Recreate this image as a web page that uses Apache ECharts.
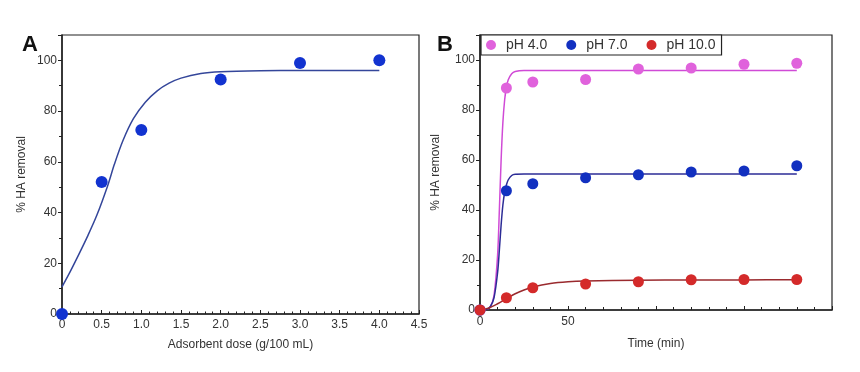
<!DOCTYPE html>
<html>
<head>
<meta charset="utf-8">
<script src="https://cdn.jsdelivr.net/npm/echarts@6/dist/echarts.min.js"></script>
<style>html,body{margin:0;padding:0;background:#fff}#c{width:860px;height:372px}</style>
</head>
<body>
<div id="c"></div>
<script>
// Panel A: adsorbent dose
const doseX = [0, 0.5, 1.0, 2.0, 3.0, 4.0];
const doseY = [0, 52, 72.5, 92.5, 99, 100];
const doseFitX = [0, 0.1, 0.22, 0.32, 0.44, 0.58, 0.66, 0.77, 0.9, 1.05, 1.2, 1.35, 1.5, 1.75, 2.0, 2.5, 3.0, 3.5, 4.0];
const doseFitY = [10.7, 16.5, 24, 30.5, 39, 51, 59, 68.5, 77, 83.5, 88, 91, 93, 94.8, 95.5, 95.9, 96, 96, 96];

// Panel B: time
const timeX = [0, 15, 30, 60, 90, 120, 150, 180];
const ph4Y = [0, 88.8, 91.2, 92.2, 96.4, 96.8, 98.3, 98.7];
const ph7Y = [0, 47.7, 50.5, 52.9, 54.1, 55.2, 55.6, 57.7];
const ph10Y = [0, 4.9, 8.9, 10.4, 11.3, 12.1, 12.2, 12.2];
const fitFastX = [0, 4, 6, 8, 10, 11, 12, 13, 14, 15, 16, 18, 20, 25, 40, 70, 110, 150, 180];
const ph4FitY = [0, 0.3, 1.5, 6, 22, 40, 60, 75, 84, 89, 92, 94.5, 95.4, 95.8, 95.8, 95.8, 95.8, 95.8, 95.8];
const ph7FitY = [0, 0.3, 1.5, 5, 15, 24, 34, 42, 47, 50, 52, 53.8, 54.3, 54.4, 54.4, 54.4, 54.4, 54.4, 54.4];
const fitSlowX = [0, 5, 10, 15, 20, 25, 30, 40, 50, 60, 90, 120, 150, 180];
const ph10FitY = [0, 0.8, 2.5, 4.5, 6.5, 8, 9.2, 10.6, 11.3, 11.6, 11.9, 12, 12.05, 12.1];

const seriesNames = ['pH 4.0', 'pH 7.0', 'pH 10.0'];
const yTicks = [0, 20, 40, 60, 80, 100];

const zip = (xs, ys) => xs.map((x, i) => [x, ys[i]]);
const FONT = 'Liberation Sans, Arial, sans-serif';
const axisCol = '#222';

function yAxis(idx, gap) {
  return {
    type: 'value', gridIndex: idx, min: 0, max: 110, interval: 20,
    name: '% HA removal', nameLocation: 'middle', nameGap: gap,
    nameTextStyle: { fontFamily: FONT, fontSize: 12, color: '#333' },
    axisLine: { show: true, lineStyle: { color: axisCol, width: 1.5 } },
    axisTick: { show: true, inside: false, length: 4, lineStyle: { color: axisCol } },
    minorTick: { show: true, splitNumber: 2, length: 3, lineStyle: { color: axisCol } },
    splitLine: { show: false },
    axisLabel: { fontFamily: FONT, fontSize: 12, color: '#333', margin: 5, showMaxLabel: false,
      formatter: v => (yTicks.indexOf(v) >= 0 ? String(v) : '') }
  };
}

function fitLine(name, xs, ys, color, xi) {
  return { type: 'line', name, xAxisIndex: xi, yAxisIndex: xi, data: zip(xs, ys),
    smooth: 0.3, showSymbol: false, lineStyle: { color, width: 1.5 }, z: 2, silent: true };
}
function dots(name, xs, ys, color, xi, size) {
  return { type: 'scatter', name, xAxisIndex: xi, yAxisIndex: xi, data: zip(xs, ys),
    symbolSize: size, itemStyle: { color, opacity: 1 }, z: 3 };
}

const chart = echarts.init(document.getElementById('c'), null, { renderer: 'canvas' });
chart.setOption({
  animation: false,
  backgroundColor: '#fff',
  grid: [
    { left: 62, top: 35, right: 441, bottom: 58, show: true, borderColor: axisCol, borderWidth: 1.2 },
    { left: 480, top: 35, right: 28, bottom: 62, show: true, borderColor: axisCol, borderWidth: 1.2 }
  ],
  xAxis: [
    {
      type: 'value', gridIndex: 0, min: 0, max: 4.5, interval: 0.5,
      name: 'Adsorbent dose (g/100 mL)', nameLocation: 'middle', nameGap: 25,
      nameTextStyle: { fontFamily: FONT, fontSize: 12, color: '#333' },
      axisLine: { show: true, lineStyle: { color: axisCol, width: 1.5 } },
      axisTick: { show: true, inside: true, length: 4, lineStyle: { color: axisCol } },
      minorTick: { show: true, splitNumber: 5, length: 2.5, lineStyle: { color: axisCol } },
      splitLine: { show: false },
      axisLabel: { fontFamily: FONT, fontSize: 12, color: '#333', margin: 5,
        formatter: v => (v === 0 ? '0' : v.toFixed(1)) }
    },
    {
      type: 'value', gridIndex: 1, min: 0, max: 200, interval: 50,
      name: 'Time (min)', nameLocation: 'middle', nameGap: 28,
      nameTextStyle: { fontFamily: FONT, fontSize: 12, color: '#333' },
      axisLine: { show: true, lineStyle: { color: axisCol, width: 1.5 } },
      axisTick: { show: true, inside: true, length: 4, lineStyle: { color: axisCol } },
      minorTick: { show: true, splitNumber: 5, length: 3, lineStyle: { color: axisCol } },
      splitLine: { show: false },
      axisLabel: { fontFamily: FONT, fontSize: 12, color: '#333', margin: 6,
        formatter: v => (v <= 50 ? String(v) : '') }
    }
  ],
  yAxis: [yAxis(0, 34), yAxis(1, 38)],
  legend: {
    data: seriesNames,
    left: 481, top: 35,
    orient: 'horizontal',
    icon: 'circle', itemWidth: 20, itemHeight: 10, itemGap: 19,
    padding: [3, 6, 3, 5],
    borderColor: axisCol, borderWidth: 1.2, backgroundColor: '#fff',
    textStyle: { fontFamily: FONT, fontSize: 14, color: '#333' }
  },
  graphic: [
    { type: 'text', left: 22, top: 34, style: { text: 'A', font: 'bold 22px ' + FONT, fill: '#111' } },
    { type: 'text', left: 437, top: 34, style: { text: 'B', font: 'bold 22px ' + FONT, fill: '#111' } }
  ],
  series: [
    fitLine('fitA', doseFitX, doseFitY, '#34469a', 0),
    dots('dose', doseX, doseY, '#1233d0', 0, 12),
    fitLine('fit4', fitFastX, ph4FitY, '#d04ad6', 1),
    fitLine('fit7', fitFastX, ph7FitY, '#2c2c96', 1),
    fitLine('fit10', fitSlowX, ph10FitY, '#9a2a2e', 1),
    dots(seriesNames[0], timeX, ph4Y, '#e062dc', 1, 11),
    dots(seriesNames[1], timeX, ph7Y, '#1230c0', 1, 11),
    dots(seriesNames[2], timeX, ph10Y, '#d42a2a', 1, 11)
  ]
});
</script>
</body>
</html>
